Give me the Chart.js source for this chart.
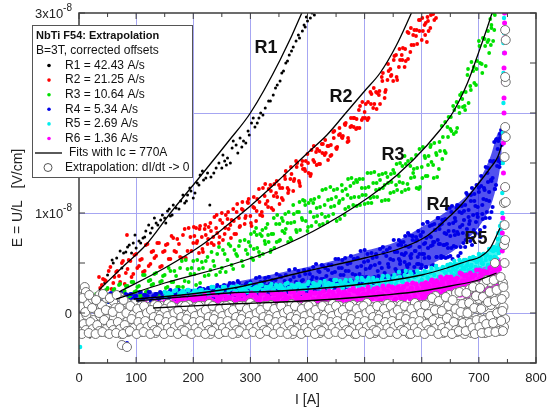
<!DOCTYPE html>
<html>
<head>
<meta charset="utf-8">
<script src="https://cdn.jsdelivr.net/npm/chart.js@4.4.1/dist/chart.umd.min.js"></script>
<style>
  html, body { margin: 0; padding: 0; background: #fff; }
  canvas { display: block; }
</style>
</head>
<body>
<canvas id="chart" width="548" height="413"></canvas>
<script>
const FONT = "'Liberation Sans', Arial, Helvetica, sans-serif";

// I in A, E in units of 1e-10 V/cm (so 100 = 1x10^-8 V/cm)
const xMajor = [0, 100, 200, 300, 400, 500, 600, 700, 800];
const xMinor = [50, 150, 250, 350, 450, 550, 650, 750];
const yMajor = [0, 100, 200, 300];
const yMinor = [-50, 50, 150, 250];
const yLabels = [[300, '3x10', '-8'], [200, '2x10', '-8'], [100, '1x10', '-8'], [0, '0', '']];

// measured points, flat lists of I, E pairs
const r1Flat = [19,-24, 45,30, 58,53, 60,50, 72,62, 78,60, 82,61, 88,68, 95,70, 100,65, 105,72, 112,75, 117,82, 122,88, 128,85, 135,90, 143,93, 150,95, 155,102, 160,97, 165,108, 170,105, 178,112, 185,110, 190,118, 196,122, 200,115, 207,130, 212,138, 218,133, 225,140, 229,108, 231,136, 240,145, 250,145, 255,152, 260,155, 265,150, 268,165, 270,172, 278,160, 285,166, 292,170, 296,182, 302,190, 308,186, 315,195, 322,198, 326,205, 332,212, 340,218, 347,228, 352,232, 358,242, 362,250, 368,258, 375,266, 380,272, 386,275, 391,282, 396,286, 400,292, 405,295, 412,298,
  50,38, 66,55, 75,45, 85,66, 92,60, 98,78, 108,70, 115,76, 125,80, 132,95, 138,88, 146,98, 152,90, 158,104, 163,98, 175,104, 182,118, 188,112, 194,125, 203,120, 210,128, 216,142, 222,135, 236,140, 245,150, 252,158, 258,148, 275,168, 282,175, 288,172, 298,178, 305,195, 312,190, 318,200, 335,212, 344,225, 355,240, 365,252, 372,262, 384,278, 394,288, 398,296, 408,300];

const r2Flat = [35,36, 40,28, 45,33, 50,24, 55,46, 60,30, 65,41, 70,37, 75,50, 80,29, 84,78, 85,44, 90,52, 95,39, 100,59, 105,47, 110,54, 115,42, 120,69, 125,49, 130,62, 135,57, 140,70, 145,47, 150,62, 155,69, 160,54, 165,75, 170,61, 175,69, 180,55, 185,84, 190,62, 195,76, 200,70, 205,85, 210,60, 215,76, 220,84, 225,69, 230,90, 235,76, 240,85, 245,70, 250,100, 255,79, 260,94, 265,88, 270,104, 275,79, 280,95, 285,104, 290,89, 295,111, 300,97, 305,106, 310,92, 315,124, 320,101, 325,117, 330,112, 335,128, 340,103, 345,120, 350,128, 355,115, 360,137, 365,125, 370,134, 375,122, 380,152, 385,132, 390,148, 395,144, 400,159, 405,137, 410,153, 415,161, 420,149, 425,169, 430,158, 435,167, 440,157, 445,181, 450,165, 455,178, 460,176, 465,189, 470,171, 475,186, 480,195, 485,184, 490,203, 495,193, 500,201, 505,193, 510,221, 515,205, 520,221, 525,218, 530,236, 535,215, 540,233, 545,244, 550,232, 555,258, 560,246, 565,258, 570,246, 575,281, 580,261, 585,278, 590,277, 595,293, 600,273, 605,288, 609,271, 610,296, 615,285, 620,299, 625,295,
  37,25, 42,34, 47,32, 52,42, 57,24, 62,36, 67,42, 72,31, 77,52, 82,40, 87,53, 92,36, 97,58, 102,45, 107,53, 112,41, 117,68, 122,47, 127,61, 132,55, 137,70, 142,46, 147,61, 152,68, 157,54, 162,77, 167,62, 172,74, 177,56, 182,78, 187,55, 192,85, 197,62, 202,77, 207,72, 212,87, 217,61, 222,78, 227,86, 232,70, 237,96, 242,80, 247,93, 252,73, 257,98, 262,84, 267,93, 272,79, 277,109, 282,87, 287,103, 292,97, 297,114, 302,87, 307,105, 312,114, 317,98, 322,125, 327,109, 332,124, 337,105, 342,129, 347,116, 352,125, 357,113, 362,142, 367,123, 372,139, 377,134, 382,150, 387,127, 392,144, 397,152, 402,140, 407,163, 412,151, 417,164, 422,149, 427,169, 432,160, 437,167, 442,158, 447,182, 452,166, 457,179, 462,177, 467,190, 472,172, 477,187, 482,195, 487,185, 492,207, 497,195, 502,209, 507,195, 512,219, 517,209, 522,220, 527,209, 532,240, 537,223, 542,242, 547,238, 552,257, 557,233, 562,253, 567,265, 572,252, 577,280, 582,268, 587,283, 592,269, 597,293, 602,282, 607,290, 612,282, 617,299, 622,293,
  201,86, 206,70, 211,84, 216,64, 221,88, 226,74, 231,82, 236,68, 241,98, 246,76, 251,90, 256,85, 261,101, 266,75, 271,92, 276,101, 281,86, 286,111, 291,95, 296,110, 301,90, 306,116, 311,102, 316,111, 321,97, 326,129, 331,106, 336,122, 341,117, 346,132, 351,109, 356,125, 361,134, 366,120, 371,146, 376,132, 381,146, 386,130, 391,152, 396,142, 401,150, 406,139, 411,167, 416,148, 421,162, 426,160, 431,173, 436,153, 441,168, 446,175, 451,164, 456,185, 461,175, 466,188, 471,175, 476,195, 481,186, 486,194, 491,185, 496,211, 501,195, 506,211, 511,209, 516,225, 521,204, 526,222, 531,232, 536,221, 541,249, 546,237, 551,253, 556,236, 561,264, 566,253, 571,264, 576,254, 581,285, 586,268, 591,283, 596,282, 601,295, 606,278, 611,292, 616,298];

const r3Flat = [30,19, 35,14, 40,17, 45,11, 50,25, 55,15, 60,23, 65,19, 70,28, 75,13, 80,22, 85,27, 90,17, 95,31, 100,22, 105,27, 110,17, 115,38, 120,22, 125,33, 130,29, 135,40, 140,19, 145,32, 150,38, 155,26, 160,42, 165,31, 170,37, 175,26, 180,52, 185,32, 190,44, 195,39, 200,52, 205,28, 210,44, 215,51, 220,37, 225,56, 230,43, 235,52, 240,38, 245,66, 250,45, 255,59, 260,53, 265,67, 270,44, 275,59, 280,67, 285,52, 290,73, 295,59, 300,67, 305,53, 310,85, 315,61, 320,77, 325,72, 330,89, 335,61, 340,79, 345,89, 350,72, 355,95, 360,80, 365,90, 370,75, 375,108, 380,83, 385,101, 390,95, 395,112, 400,82, 405,101, 410,110, 415,91, 420,116, 425,99, 430,108, 435,91, 440,126, 445,99, 450,116, 455,110, 460,128, 465,98, 470,118, 475,127, 480,108, 485,133, 490,116, 495,125, 500,109, 505,140, 510,115, 515,130, 520,123, 525,138, 530,112, 535,128, 540,136, 545,120, 550,143, 555,128, 560,137, 565,121, 570,157, 575,129, 580,147, 585,140, 590,158, 595,124, 600,146, 605,157, 610,137, 615,166, 620,148, 625,160, 630,144, 635,187, 640,162, 645,186, 650,184, 655,207, 660,181, 665,206, 670,220, 675,207, 680,238, 685,227, 690,242, 695,228, 700,272, 705,249, 710,274, 715,271, 718,260, 720,294, 722,285, 725,272, 728,298,
  32,11, 37,18, 42,15, 47,23, 52,11, 57,19, 62,24, 67,15, 72,29, 77,20, 82,27, 87,16, 92,31, 97,21, 102,26, 107,17, 112,38, 117,21, 122,32, 127,28, 132,39, 137,19, 142,31, 147,37, 152,25, 157,45, 162,31, 167,42, 172,26, 177,45, 182,26, 187,53, 192,31, 197,45, 202,39, 207,53, 212,30, 217,45, 222,52, 227,38, 232,61, 237,47, 242,59, 247,41, 252,63, 257,41, 262,69, 267,48, 272,63, 277,57, 282,72, 287,47, 292,63, 297,71, 302,55, 307,81, 312,65, 317,79, 322,59, 327,85, 332,71, 337,79, 342,65, 347,98, 352,73, 357,92, 362,84, 367,101, 372,73, 377,91, 382,101, 387,83, 392,113, 397,92, 402,110, 407,87, 412,114, 417,97, 422,106, 427,89, 432,124, 437,97, 442,114, 447,107, 452,124, 457,94, 462,114, 467,124, 472,106, 477,135, 482,116, 487,131, 492,108, 497,134, 502,118, 507,126, 512,110, 517,141, 522,116, 527,133, 532,125, 537,140, 542,113, 547,131, 552,140, 557,123, 562,150, 567,130, 572,149, 577,124, 582,154, 587,136, 592,145, 597,126, 602,166, 607,137, 612,157, 617,151, 622,170, 627,136, 632,162, 637,176, 642,160, 647,196, 652,182, 657,203, 662,185, 667,218, 672,206, 677,221, 682,210, 687,251, 692,230, 697,252, 702,250, 707,275, 712,247, 717,273, 722,288, 727,283,
  301,79, 306,64, 311,78, 316,57, 321,83, 326,69, 331,78, 336,63, 341,95, 346,71, 351,89, 356,82, 361,99, 366,71, 371,90, 376,99, 381,81, 386,111, 391,93, 396,108, 401,86, 406,113, 411,96, 416,105, 421,88, 426,123, 431,96, 436,113, 441,106, 446,123, 451,92, 456,112, 461,122, 466,104, 471,134, 476,115, 481,130, 486,107, 491,134, 496,118, 501,125, 506,110, 511,140, 516,116, 521,130, 526,124, 531,139, 536,113, 541,130, 546,139, 551,121, 556,149, 561,131, 566,147, 571,123, 576,152, 581,135, 586,144, 591,125, 596,164, 601,135, 606,155, 611,148, 616,168, 621,135, 626,158, 631,171, 636,154, 641,191, 646,176, 651,196, 656,179, 661,211, 666,200, 671,214, 676,203, 681,244, 686,223, 691,246, 696,244, 701,267, 706,240, 711,267, 716,282, 721,268, 726,300];

const r4Flat = [80,6, 84,-30, 40,18, 44,14, 48,16, 52,11, 56,20, 60,13, 64,18, 68,16, 72,20, 76,12, 80,16, 84,18, 88,13, 92,19, 96,15, 100,17, 104,12, 108,21, 112,14, 116,18, 120,17, 124,21, 128,13, 132,17, 136,19, 140,14, 144,20, 148,16, 152,18, 156,14, 160,23, 164,16, 168,20, 172,18, 176,22, 180,14, 184,19, 188,21, 192,16, 196,22, 200,18, 204,20, 208,16, 212,25, 216,17, 220,23, 224,20, 228,25, 232,15, 236,22, 240,25, 244,18, 248,26, 252,20, 256,23, 260,17, 264,30, 268,19, 272,26, 276,23, 280,30, 284,17, 288,25, 292,29, 296,20, 300,31, 304,23, 308,27, 312,19, 316,36, 320,22, 324,31, 328,27, 332,36, 336,19, 340,29, 344,33, 348,23, 352,37, 356,26, 360,32, 364,21, 368,43, 372,25, 376,36, 380,31, 384,42, 388,19, 392,33, 396,39, 400,24,
  403,43, 406,30, 409,36, 412,23, 415,49, 418,28, 421,41, 424,34, 427,47, 430,23, 433,37, 436,43, 439,28, 442,48, 445,33, 448,41, 451,25, 454,54, 457,32, 460,45, 463,38, 466,55, 469,26, 472,42, 475,50, 478,32, 481,54, 484,38, 487,46, 490,29, 493,62, 496,36, 499,51, 502,44, 505,59, 508,29, 511,47, 514,55, 517,36, 520,59, 523,42, 526,50, 529,34, 532,66, 535,40, 538,57, 541,49, 544,65, 547,35, 550,53, 553,61, 556,42, 559,68, 562,49, 565,59, 568,39, 571,77, 574,48, 577,66, 580,57, 583,77, 586,40, 589,62, 592,73, 595,49, 598,77, 601,59, 604,69, 607,46, 610,91, 613,55, 616,76, 619,68, 622,89, 625,47, 628,73, 631,84, 634,57, 637,93, 640,68, 643,79, 646,56, 649,105, 652,65, 655,90, 658,78, 661,105, 664,57, 667,86, 670,100, 673,70, 676,108, 679,84, 682,96, 685,72, 688,125, 691,83, 694,107, 697,99, 700,125, 703,76, 706,108, 709,125, 712,95, 715,140, 718,112, 721,133, 724,106, 727,171, 730,128, 733,164, 735,155, 737,179, 738,150, 739,183, 740,168,
  42,12, 46,17, 50,14, 54,19, 58,10, 62,15, 66,18, 70,13, 74,20, 78,15, 82,19, 86,12, 90,19, 94,14, 98,17, 102,12, 106,21, 110,13, 114,18, 118,16, 122,21, 126,12, 130,17, 134,19, 138,14, 142,21, 146,16, 150,21, 154,14, 158,21, 162,16, 166,19, 170,14, 174,23, 178,15, 182,21, 186,18, 190,23, 194,14, 198,19, 202,22, 206,17, 210,24, 214,19, 218,24, 222,17, 226,25, 230,19, 234,22, 238,16, 242,28, 246,18, 250,22, 254,28, 258,16, 262,27, 266,22, 270,30, 274,18, 278,32, 282,22, 286,27, 290,18, 294,30, 298,22, 302,27, 306,18, 310,35, 314,22, 318,31, 322,27, 326,35, 330,19, 334,29, 338,33, 342,22, 346,39, 350,28, 354,36, 358,23, 362,38, 366,27, 370,33, 374,22, 378,44, 382,25, 386,37, 390,32, 394,43, 398,20,
  401,26, 404,39, 407,33, 410,46, 413,21, 416,35, 419,42, 422,27, 425,48, 428,34, 431,45, 434,26, 437,48, 440,33, 443,40, 446,25, 449,54, 452,31, 455,45, 458,38, 461,53, 464,25, 467,42, 470,49, 473,32, 476,57, 479,39, 482,54, 485,31, 488,55, 491,39, 494,47, 497,30, 500,63, 503,36, 506,52, 509,45, 512,60, 515,30, 518,48, 521,56, 524,37, 527,64, 530,45, 533,60, 536,36, 539,63, 542,46, 545,54, 548,37, 551,73, 554,44, 557,61, 560,54, 563,71, 566,37, 569,58, 572,67, 575,46, 578,78, 581,55, 584,73, 587,46, 590,76, 593,56, 596,66, 599,45, 602,89, 605,55, 608,75, 611,65, 614,87, 617,47, 620,71, 623,83, 626,56, 629,95, 632,69, 635,89, 638,56, 641,94, 644,69, 647,82, 650,57, 653,107, 656,67, 659,92, 662,81, 665,107, 668,60, 671,88, 674,102, 677,73, 680,118, 683,89, 686,112, 689,75, 692,119, 695,91, 698,106, 701,79, 704,137, 707,94, 710,123, 713,113, 716,145, 719,95, 722,132, 725,151, 728,124, 731,174, 734,152, 737,175,
  560,73, 562,52, 564,68, 566,42, 568,71, 570,51, 572,60, 574,41, 576,80, 578,49, 580,67, 582,59, 584,77, 586,41, 588,62, 590,72, 592,49, 594,82, 596,59, 598,78, 600,48, 602,81, 604,59, 606,70, 608,46, 610,91, 612,56, 614,77, 616,67, 618,88, 620,48, 622,71, 624,83, 626,56, 628,95, 630,69, 632,88, 634,55, 636,93, 638,68, 640,80, 642,55, 644,104, 646,65, 648,89, 650,77, 652,101, 654,54, 656,82, 658,95, 660,66, 662,108, 664,79, 666,101, 668,66, 670,107, 672,80, 674,93, 676,66, 678,120, 680,78, 682,103, 684,92, 686,118, 688,68, 690,98, 692,112, 694,80, 696,128, 698,96, 700,121, 702,83, 704,127, 706,99, 708,114, 710,86, 712,146, 714,101, 716,131, 718,121, 720,152, 722,101, 724,135, 726,152, 728,124, 730,173, 732,147, 734,172, 736,146];

const r5Flat = [2,-34, 3,2, 150,21, 155,18, 160,19, 165,16, 170,23, 175,18, 180,21, 185,20, 190,23, 195,16, 200,20, 205,22, 210,18, 215,23, 220,20, 225,21, 230,18, 235,26, 240,20, 245,23, 250,22, 255,26, 260,19, 265,24, 270,26, 275,22, 280,26, 285,23, 290,24, 295,21, 300,29, 305,23, 310,26, 315,25, 320,28, 325,21, 330,25, 335,27, 340,23, 345,28, 350,25, 355,26, 360,23, 365,30, 370,24, 375,27, 380,26, 385,29, 390,22, 395,27, 400,29, 405,24, 410,30, 415,27, 420,28, 425,24, 430,32, 435,26, 440,29, 445,29, 450,33, 455,25, 460,29, 465,31, 470,27, 475,33, 480,29, 485,31, 490,26, 495,35, 500,28, 505,33, 510,30, 515,35, 520,26, 525,31, 530,34, 535,28, 540,37, 545,31, 550,35, 555,29, 560,41, 565,32, 570,38, 575,35, 580,41, 585,30, 590,37, 595,40, 600,33, 605,42, 610,36, 615,40, 620,33, 625,47, 630,36, 635,43, 640,41, 645,48, 650,36, 655,44, 660,48, 665,40, 670,51, 675,44, 680,48, 685,41, 690,56, 695,45, 700,53, 705,50, 710,59, 715,45, 720,56, 725,62, 730,55, 733,74, 736,68, 738,80, 740,90, 741,100, 742,75,
  741,120, 742,150, 742,180, 743,210, 743,240, 744,260, 744,280, 745,300, 744,295, 743,270,
  152,17, 157,20, 162,19, 167,22, 172,16, 177,20, 182,22, 187,18, 192,23, 197,19, 202,22, 207,18, 212,23, 217,20, 222,21, 227,18, 232,26, 237,20, 242,23, 247,22, 252,26, 257,19, 262,23, 267,26, 272,22, 277,27, 282,23, 287,26, 292,22, 297,27, 302,24, 307,25, 312,22, 317,29, 322,23, 327,26, 332,26, 337,29, 342,22, 347,26, 352,28, 357,24, 362,29, 367,25, 372,28, 377,24, 382,29, 387,26, 392,27, 397,24, 402,31, 407,25, 412,29, 417,28, 422,31, 427,24, 432,28, 437,30, 442,26, 447,33, 452,28, 457,32, 462,25, 467,33, 472,28, 477,31, 482,26, 487,35, 492,27, 497,33, 502,30, 507,35, 512,26, 517,31, 522,33, 527,28, 532,37, 537,32, 542,36, 547,30, 552,38, 557,33, 562,36, 567,31, 572,42, 577,33, 582,39, 587,36, 592,42, 597,31, 602,38, 607,41, 612,34, 617,45, 622,38, 627,44, 632,35, 637,46, 642,40, 647,43, 652,36, 657,52, 662,41, 667,48, 672,45, 677,53, 682,40, 687,48, 692,53, 697,43, 702,58, 707,49, 712,57, 717,47, 722,64, 727,56, 732,65, 735,60, 737,87,
  650,49, 652,41, 654,48, 656,38, 658,49, 660,42, 662,46, 664,38, 666,53, 668,42, 670,49, 672,45, 674,53, 676,39, 678,47, 680,52, 682,43, 684,55, 686,46, 688,54, 690,42, 692,55, 694,46, 696,51, 698,42, 700,59, 702,45, 704,54, 706,50, 708,59, 710,43, 712,53, 714,58, 716,48, 718,64, 720,54, 722,63, 724,50, 726,66, 728,56, 730,63, 732,54, 734,80, 736,64, 738,83];

const r6Flat = [1,-10, 5,2, 52,-7, 63,-20, 102,-5, 106,-2, 140,-8, 229,-20,
  100,5, 104,1, 108,4, 112,0, 116,10, 120,3, 124,8, 128,6, 132,11, 136,3, 140,7, 144,10, 148,5, 152,11, 156,8, 160,10, 164,6, 168,15, 172,9, 176,13, 180,12, 184,16, 188,8, 192,13, 196,15, 200,10, 204,16, 208,12, 212,14, 216,9, 220,18, 224,11, 228,15, 232,13, 236,18, 240,9, 244,14, 248,16, 252,10, 256,18, 260,12, 264,15, 268,9, 272,19, 276,11, 280,16, 284,13, 288,18, 292,9, 296,14, 300,17, 304,10, 308,18, 312,12, 316,15, 320,9, 324,20, 328,11, 332,16, 336,13, 340,19, 344,9, 348,15, 352,17, 356,11, 360,19, 364,13, 368,15, 372,9, 376,21, 380,12, 384,17, 388,14, 392,20, 396,9, 400,15, 404,18, 408,11, 412,20, 416,13, 420,16, 424,10, 428,22, 432,12, 436,18, 440,15, 444,21, 448,9, 452,17, 456,20, 460,12, 464,21, 468,15, 472,18, 476,11, 480,25, 484,14, 488,20, 492,17, 496,24, 500,11, 504,19, 508,22, 512,14, 516,24, 520,17, 524,20, 528,13, 532,27, 536,15, 540,22, 544,19, 548,26, 552,12, 556,21, 560,24, 564,15, 568,26, 572,18, 576,22, 580,14, 584,30, 588,17, 592,25, 596,21, 600,29,
  602,13, 604,22, 606,27, 608,17, 610,29, 612,20, 614,24, 616,15, 618,33, 620,18, 622,27, 624,23, 626,32, 628,14, 630,25, 632,29, 634,18, 636,32, 638,22, 640,26, 642,16, 644,36, 646,20, 648,30, 650,25, 652,34, 654,16, 656,27, 658,31, 660,20, 662,35, 664,23, 666,29, 668,18, 670,39, 672,22, 674,32, 676,27, 678,38, 680,17, 682,29, 684,34, 686,21, 688,37, 690,25, 692,31, 694,19, 696,43, 698,23, 700,34, 702,29, 704,40, 706,18, 708,31, 710,37, 712,22, 714,41, 716,27, 718,33, 720,19, 722,46, 724,24, 726,38, 728,31, 730,44, 732,21, 734,36, 736,44, 738,33,
  102,-1, 106,5, 110,4, 114,8, 118,0, 122,5, 126,8, 130,3, 134,11, 138,6, 142,10, 146,4, 150,11, 154,6, 158,10, 162,5, 166,15, 170,8, 174,13, 178,11, 182,16, 186,8, 190,12, 194,15, 198,10, 202,17, 206,12, 210,16, 214,10, 218,16, 222,12, 226,14, 230,9, 234,19, 238,11, 242,16, 246,13, 250,18, 254,9, 258,14, 262,16, 266,10, 270,19, 274,13, 278,17, 282,10, 286,18, 290,12, 294,15, 298,9, 302,20, 306,11, 310,16, 314,13, 318,19, 322,8, 326,14, 330,17, 334,10, 338,20, 342,14, 346,19, 350,10, 354,19, 358,13, 362,16, 366,9, 370,21, 374,11, 378,17, 382,14, 386,20, 390,9, 394,15, 398,18, 402,11, 406,21, 410,14, 414,20, 418,11, 422,20, 426,14, 430,17, 434,10, 438,22, 442,12, 446,18, 450,15, 454,23, 458,10, 462,17, 466,20, 470,12, 474,23, 478,15, 482,22, 486,12, 490,23, 494,16, 498,19, 502,12, 506,26, 510,15, 514,21, 518,18, 522,25, 526,12, 530,19, 534,24, 538,15, 542,27, 546,18, 550,25, 554,14, 558,26, 562,18, 566,22, 570,14, 574,29, 578,16, 582,25, 586,21, 590,29, 594,13, 598,22,
  601,17, 603,25, 605,21, 607,30, 609,14, 611,23, 613,27, 615,16, 617,32, 619,22, 621,30, 623,16, 625,31, 627,21, 629,26, 631,15, 633,36, 635,19, 637,29, 639,25, 641,34, 643,15, 645,26, 647,31, 649,19, 651,36, 653,25, 655,33, 657,19, 659,34, 661,23, 663,28, 665,18, 667,40, 669,22, 671,32, 673,27, 675,37, 677,17, 679,29, 681,34, 683,21, 685,40, 687,26, 689,36, 691,20, 693,38, 695,26, 697,31, 699,19, 701,43, 703,23, 705,36, 707,30, 709,42, 711,18, 713,31, 715,37, 717,22, 719,45, 721,29, 723,40, 725,22, 727,43, 729,29, 731,36, 733,23, 735,51, 737,33, 739,48,
  740,50, 741,62, 741,80, 742,95, 742,110, 742,125, 743,140, 743,155, 743,170, 743,185, 744,200, 744,215, 744,230, 744,245, 745,260, 745,275, 745,290, 745,300];

// lower and upper edge where the slow runs crowd into a solid band, I, E pairs
const r4Low = [40,11, 100,12, 200,15, 264,16, 300,18, 350,20, 400,20, 450,25, 500,30, 550,36, 600,44, 650,60, 680,74, 700,86, 720,106, 733,132, 740,155];
const r4High = [40,19, 100,20, 200,23, 264,30, 300,34, 350,40, 400,46, 450,53, 500,62, 550,70, 600,86, 650,104, 680,118, 700,132, 720,156, 733,180, 740,183];
const r5Low = [150,16, 264,21, 400,24, 527,27, 600,32, 650,37, 700,42, 725,50, 735,60, 740,75];
const r5High = [150,22, 264,27, 400,30, 527,35, 600,42, 650,49, 700,58, 725,66, 735,80, 740,95];
const r6Low = [100,-2, 150,4, 200,9, 264,9, 400,9, 527,12, 600,14, 650,16, 700,18, 725,19, 738,28];
const r6High = [100,6, 150,12, 200,18, 264,20, 400,21, 527,27, 600,32, 650,38, 700,44, 725,50, 738,56];

// extrapolated values, dI/dt -> 0
const extrapFlat = [0,16, 4,6, 1,-4, 5,-13, 2,-19, 10,26, 12,21, 16,9, 13,-2, 17,-12, 14,-18, 24,14, 28,4, 25,-7, 29,-16, 26,-20, 36,18, 40,8, 37,-3, 41,-11, 38,-19, 48,15, 52,2, 49,-6, 53,-15, 50,-20, 60,12, 64,5, 61,-5, 65,-14, 62,-18, 72,16, 76,7, 73,-2, 77,-16, 74,-21, 75,-32, 84,10, 88,1, 85,-8, 89,-15, 86,-19, 84,-34,
  96,9, 100,3, 97,-4, 101,-11, 98,-18, 108,7, 112,1, 109,-6, 113,-12, 110,-19, 120,6, 124,1, 121,-6, 125,-14, 122,-18, 132,8, 136,-1, 133,-8, 137,-12, 134,-20, 144,7, 148,2, 145,-5, 149,-13, 146,-18, 156,9, 160,0, 157,-7, 161,-12, 158,-17, 168,5, 172,1, 169,-6, 173,-11, 170,-19, 180,7, 184,-2, 181,-8, 185,-14, 182,-18, 192,8, 196,2, 193,-4, 197,-12, 194,-20, 204,6, 208,1, 205,-6, 209,-13, 206,-17, 216,7, 220,-1, 217,-6, 221,-11, 218,-18, 228,9, 232,1, 229,-7, 233,-14, 230,-21, 240,5, 244,3, 241,-5, 245,-12, 242,-18, 252,7, 256,0, 253,-8, 257,-12, 254,-19, 264,8, 268,1, 265,-4, 269,-13, 266,-17, 276,6, 280,-2, 277,-6, 281,-11, 278,-20, 288,7, 292,2, 289,-6, 293,-14, 290,-18, 300,10, 304,1, 301,-7, 305,-12, 302,-18, 312,6, 316,-1, 313,-5, 317,-13, 314,-19, 324,7, 328,1, 325,-8, 329,-12, 326,-17, 336,8, 340,3, 337,-6, 341,-11, 338,-20, 348,5, 352,0, 349,-6, 353,-14, 350,-18, 360,7, 364,1, 361,-4, 365,-12, 362,-18, 372,9, 376,2, 373,-7, 377,-13, 374,-21, 384,6, 388,-1, 385,-6, 389,-11, 386,-17, 396,7, 400,1, 397,-8, 401,-12, 398,-19, 408,8, 412,1, 409,-5, 413,-14, 410,-18, 420,5, 424,3, 421,-6, 425,-12, 422,-20, 432,7, 436,0, 433,-4, 437,-13, 434,-18, 444,9, 448,1, 445,-7, 449,-11, 446,-17, 456,7, 460,-1, 457,-6, 461,-12, 458,-19, 468,6, 472,2, 469,-8, 473,-14, 470,-18, 480,8, 484,1, 481,-5, 485,-12, 482,-21, 492,7, 496,1, 493,-6, 497,-13, 494,-17, 504,10, 508,0, 505,-4, 509,-11, 506,-18, 516,6, 520,2, 517,-7, 521,-12, 518,-20, 528,7, 532,-1, 529,-6, 533,-14, 530,-18, 540,9, 544,1, 541,-8, 545,-12, 542,-19, 552,7, 556,3, 553,-5, 557,-13, 554,-17, 564,8, 568,1, 565,-6, 569,-11, 566,-18, 576,6, 580,0, 577,-4, 581,-12, 578,-21, 588,10, 592,2, 589,-7, 593,-14, 590,-18, 600,8, 604,1, 601,-6, 605,-12, 602,-19, 612,10, 616,4, 613,-3, 617,-11, 614,-17,
  624,17, 628,5, 625,-5, 629,-12, 626,-18, 636,14, 640,7, 637,-4, 641,-13, 638,-20, 648,18, 652,6, 649,-2, 653,-12, 650,-18, 660,20, 664,9, 661,-1, 665,-11, 662,-19, 672,22, 676,10, 673,0, 677,-9, 674,-17, 675,-21, 684,24, 688,12, 685,2, 689,-8, 686,-16, 687,-20, 696,27, 700,14, 697,4, 701,-6, 698,-14, 699,-19, 708,29, 712,17, 709,6, 713,-5, 710,-13, 711,-20, 720,31, 724,20, 721,8, 725,-3, 722,-11, 723,-18, 732,34, 736,22, 733,10, 737,-2, 734,-10, 735,-18, 742,30, 745,18, 743,6, 746,-6, 744,-14,
  6,15, 11,1, 8,-11, 12,-17, 5,-21, 18,18, 23,5, 20,-9, 24,-16, 17,-20, 30,13, 35,0, 32,-12, 36,-18, 29,-21, 42,19, 47,3, 44,-7, 48,-16, 41,-19, 54,15, 59,1, 56,-11, 60,-17, 53,-21, 66,18, 71,5, 68,-9, 72,-16, 65,-20, 78,13, 83,0, 80,-12, 84,-18, 77,-21,
  90,7, 95,-2, 92,-6, 96,-15, 89,-18, 102,4, 107,-3, 104,-9, 108,-15, 101,-21, 114,7, 119,0, 116,-8, 120,-14, 113,-19, 126,3, 131,-4, 128,-11, 132,-17, 125,-21, 138,7, 143,-2, 140,-6, 144,-15, 137,-18, 150,4, 155,-3, 152,-9, 156,-15, 149,-21, 162,7, 167,0, 164,-8, 168,-14, 161,-19, 174,3, 179,-4, 176,-11, 180,-17, 173,-21, 186,7, 191,-2, 188,-6, 192,-15, 185,-18, 198,4, 203,-3, 200,-9, 204,-15, 197,-21, 210,7, 215,0, 212,-8, 216,-14, 209,-19, 222,3, 227,-4, 224,-11, 228,-17, 221,-21, 234,7, 239,-2, 236,-6, 240,-15, 233,-18, 246,4, 251,-3, 248,-9, 252,-15, 245,-21, 258,7, 263,0, 260,-8, 264,-14, 257,-19, 270,3, 275,-4, 272,-11, 276,-17, 269,-21, 282,7, 287,-2, 284,-6, 288,-15, 281,-18, 294,4, 299,-3, 296,-9, 300,-15, 293,-21, 306,7, 311,0, 308,-8, 312,-14, 305,-19, 318,3, 323,-4, 320,-11, 324,-17, 317,-21, 330,7, 335,-2, 332,-6, 336,-15, 329,-18, 342,4, 347,-3, 344,-9, 348,-15, 341,-21, 354,7, 359,0, 356,-8, 360,-14, 353,-19, 366,3, 371,-4, 368,-11, 372,-17, 365,-21, 378,7, 383,-2, 380,-6, 384,-15, 377,-18, 390,4, 395,-3, 392,-9, 396,-15, 389,-21, 402,7, 407,0, 404,-8, 408,-14, 401,-19, 414,3, 419,-4, 416,-11, 420,-17, 413,-21, 426,7, 431,-2, 428,-6, 432,-15, 425,-18, 438,4, 443,-3, 440,-9, 444,-15, 437,-21, 450,7, 455,0, 452,-8, 456,-14, 449,-19, 462,3, 467,-4, 464,-11, 468,-17, 461,-21, 474,7, 479,-2, 476,-6, 480,-15, 473,-18, 486,4, 491,-3, 488,-9, 492,-15, 485,-21, 498,7, 503,0, 500,-8, 504,-14, 497,-19, 510,3, 515,-4, 512,-11, 516,-17, 509,-21, 522,7, 527,-2, 524,-6, 528,-15, 521,-18, 534,4, 539,-3, 536,-9, 540,-15, 533,-21, 546,7, 551,0, 548,-8, 552,-14, 545,-19, 558,3, 563,-4, 560,-11, 564,-17, 557,-21, 570,7, 575,-2, 572,-6, 576,-15, 569,-18, 582,4, 587,-3, 584,-9, 588,-15, 581,-21, 594,7, 599,0, 596,-8, 600,-14, 593,-19,
  606,8, 611,-1, 608,-11, 612,-17, 605,-21, 618,15, 623,3, 620,-7, 624,-15, 617,-18, 630,12, 635,2, 632,-9, 636,-15, 629,-21, 642,16, 647,7, 644,-5, 648,-14, 641,-19, 654,13, 659,4, 656,-9, 660,-17, 653,-21, 666,21, 671,9, 668,1, 672,-10, 665,-18, 678,20, 683,10, 680,0, 684,-10, 677,-18, 690,26, 695,17, 692,5, 696,-7, 689,-15, 693,-21, 702,25, 707,16, 704,4, 708,-7, 701,-14, 705,-20, 714,33, 719,21, 716,11, 720,-3, 713,-11, 717,-19, 726,33, 731,23, 728,12, 732,0, 725,-10, 729,-19, 738,36, 743,26, 740,14, 741,2, 739,-8, 742,-18,
  728,50, 745,50, 744,68, 746,73, 745,88, 744,110, 747,111, 746,126, 745,156, 747,176, 746,186, 747,231, 746,236, 747,273, 746,283];

// power-law fits with Ic = 770 A
const fitR1 = [35,23, 80,48, 117,68, 160,100, 210,135, 262,172, 300,200, 352,253, 390,300, 400,315];
const fitR2 = [70,21, 150,45, 215,68, 264,90, 300,107, 350,133, 400,160, 434,178, 467,200, 500,222, 527,240, 555,267, 582,300, 590,310];
const fitR3 = [65,14, 150,30, 265,48, 340,63, 430,88, 527,124, 585,153, 632,183, 655,201, 680,230, 698,258, 723,300, 728,310];
const fitR4 = [96,14, 180,18, 270,25, 400,42, 500,55, 560,64, 609,77, 655,100, 672,110, 700,130, 720,145, 733,156, 740,168];
const fitR5 = [100,12, 264,20, 352,22, 450,26, 527,31, 600,38, 644,45, 680,52, 702,56, 720,65, 737,85];
const fitR6 = [130,5, 264,9, 357,11, 450,14, 535,18, 600,22, 650,27, 700,33, 731,40];

const rateNames = ['R1 = 42.43 A/s', 'R2 = 21.25 A/s', 'R3 = 10.64 A/s', 'R4 = 5.34 A/s', 'R5 = 2.69 A/s', 'R6 = 1.36 A/s'];
const rateColors = ['#000000', '#ff0000', '#00e000', '#0000e8', '#00eeee', '#ff00ff'];
const rateSizes = [1.5, 1.9, 1.9, 2.1, 2.2, 2.5];
const bandFills = ['rgba(0,0,232,0.68)', 'rgba(0,238,238,0.75)', 'rgba(255,0,255,0.9)'];
const curveNames = ['R1', 'R2', 'R3', 'R4', 'R5'];
const curveNameAt = [[266, 265], [341, 216], [393, 158], [438, 108], [476, 74]];

const pairs = flat => {
  const out = [];
  for (let i = 0; i < flat.length; i += 2) out.push({ x: flat[i], y: flat[i + 1] });
  return out;
};

const datasets = [];
[fitR1, fitR2, fitR3, fitR4, fitR5, fitR6].forEach(f => datasets.push({
  type: 'line', data: pairs(f), borderColor: '#000', borderWidth: 1.3, pointRadius: 0,
  showLine: true, fill: false, cubicInterpolationMode: 'monotone', order: 0
}));
datasets.push({
  data: pairs(extrapFlat), pointRadius: 4.5, pointBackgroundColor: '#ffffff',
  pointBorderColor: '#707070', pointBorderWidth: 1, showLine: false, order: 1
});
[r1Flat, r2Flat, r3Flat, r4Flat, r5Flat, r6Flat].forEach((f, i) => datasets.push({
  data: pairs(f), pointRadius: rateSizes[i], pointBackgroundColor: rateColors[i],
  pointBorderWidth: 0, borderWidth: 0, showLine: false, order: 7 - i
}));
// crowded part of R4..R6: upper edge filled down to the lower edge that follows it
[[r4High, r4Low], [r5High, r5Low], [r6High, r6Low]].forEach(([hi, lo], i) => {
  const base = { type: 'line', pointRadius: 0, borderWidth: 0, borderColor: 'rgba(0,0,0,0)',
    showLine: true, tension: 0.3, order: 10 - i };
  datasets.push({ ...base, data: pairs(hi), fill: '+1', backgroundColor: bandFills[i] });
  datasets.push({ ...base, data: pairs(lo), fill: false });
});

const overlay = {
  id: 'overlay',
  afterDraw(chart) {
    const { ctx, chartArea: a, scales: { x, y } } = chart;
    ctx.save();
    ctx.strokeStyle = '#3c3c3c';
    ctx.lineWidth = 1.5;
    ctx.strokeRect(a.left, a.top, a.right - a.left, a.bottom - a.top);

    // tick marks point inward on all four sides
    ctx.lineWidth = 1;
    ctx.beginPath();
    const xt = (v, len) => { const p = x.getPixelForValue(v); ctx.moveTo(p, a.bottom); ctx.lineTo(p, a.bottom - len); ctx.moveTo(p, a.top); ctx.lineTo(p, a.top + len); };
    const yt = (v, len) => { const p = y.getPixelForValue(v); ctx.moveTo(a.left, p); ctx.lineTo(a.left + len, p); ctx.moveTo(a.right, p); ctx.lineTo(a.right - len, p); };
    xMajor.forEach(v => xt(v, 6)); xMinor.forEach(v => xt(v, 4));
    yMajor.forEach(v => yt(v, 6)); yMinor.forEach(v => yt(v, 6));
    ctx.stroke();

    ctx.fillStyle = '#222';
    ctx.font = '13px ' + FONT;
    ctx.textAlign = 'center'; ctx.textBaseline = 'middle';
    xMajor.forEach(v => ctx.fillText(String(v), x.getPixelForValue(v), a.bottom + 15));

    yLabels.forEach(([v, m, e]) => {
      const py = y.getPixelForValue(v);
      ctx.font = '13px ' + FONT;
      const wm = ctx.measureText(m).width;
      ctx.font = '10px ' + FONT;
      const we = e ? ctx.measureText(e).width : 0;
      const x0 = a.left - 7 - wm - we;
      ctx.textAlign = 'left';
      ctx.font = '13px ' + FONT;
      ctx.fillText(m, x0, py + 1);
      if (e) { ctx.font = '10px ' + FONT; ctx.fillText(e, x0 + wm, py - 5); }
    });

    ctx.font = '14px ' + FONT;
    ctx.textAlign = 'center';
    ctx.fillText('I [A]', (a.left + a.right) / 2, 400);
    ctx.save();
    ctx.translate(18, 198);
    ctx.rotate(-Math.PI / 2);
    ctx.fillText('E = U/L   [V/cm]', 0, 0);
    ctx.restore();

    // curve names
    ctx.font = 'bold 18px ' + FONT;
    ctx.fillStyle = '#111';
    curveNames.forEach((t, i) => ctx.fillText(t, curveNameAt[i][0], y.getPixelForValue(curveNameAt[i][1])));

    // legend box
    const lx = 32, ly = 25, lw = 160, lh = 152;
    ctx.fillStyle = '#fff';
    ctx.fillRect(lx, ly, lw, lh);
    ctx.strokeStyle = '#555'; ctx.lineWidth = 1;
    ctx.strokeRect(lx + 0.5, ly + 0.5, lw, lh);
    ctx.fillStyle = '#111';
    ctx.textAlign = 'left'; ctx.textBaseline = 'middle';
    ctx.font = 'bold 11px ' + FONT;
    ctx.fillText('NbTi F54: Extrapolation', 36, 36);
    ctx.font = '12px ' + FONT;
    ctx.fillText('B=3T, corrected offsets', 36, 51);
    rateNames.forEach((n, i) => {
      const ry = 65.5 + i * 14.6;
      ctx.fillStyle = rateColors[i];
      ctx.beginPath(); ctx.arc(49, ry, 1.8, 0, Math.PI * 2); ctx.fill();
      ctx.fillStyle = '#111';
      ctx.fillText(n, 65, ry);
    });
    ctx.strokeStyle = '#000'; ctx.lineWidth = 1.3;
    ctx.beginPath(); ctx.moveTo(35, 153); ctx.lineTo(62, 153); ctx.stroke();
    ctx.fillText('Fits with Ic = 770A', 69, 153);
    ctx.strokeStyle = '#555'; ctx.lineWidth = 1;
    ctx.beginPath(); ctx.arc(48, 167.5, 4, 0, Math.PI * 2); ctx.stroke();
    ctx.fillText('Extrapolation: dI/dt -> 0', 65, 167.5);
    ctx.restore();
  }
};

const gridLine = vals => c => vals.includes(c.tick.value) ? '#a6a6f2' : 'rgba(0,0,0,0)';

new Chart(document.getElementById('chart'), {
  type: 'scatter',
  data: { datasets },
  options: {
    responsive: false,
    animation: false,
    events: [],
    devicePixelRatio: 1,
    layout: { padding: { left: 79, right: 12, top: 13, bottom: 50 } },
    plugins: { legend: { display: false }, tooltip: { enabled: false } },
    scales: {
      x: {
        type: 'linear', min: 0, max: 800,
        afterBuildTicks: s => { s.ticks = xMajor.map(v => ({ value: v })); },
        afterFit: s => { s.height = 0; },
        ticks: { display: false },
        border: { display: false },
        grid: { drawTicks: false, color: gridLine([100, 200, 300, 400, 500, 600, 700]), lineWidth: 1 }
      },
      y: {
        type: 'linear', min: -50, max: 300,
        afterBuildTicks: s => { s.ticks = yMajor.map(v => ({ value: v })); },
        afterFit: s => { s.width = 0; },
        ticks: { display: false },
        border: { display: false },
        grid: { drawTicks: false, color: gridLine([0, 100, 200]), lineWidth: 1 }
      }
    }
  },
  plugins: [overlay]
});
</script>
</body>
</html>
